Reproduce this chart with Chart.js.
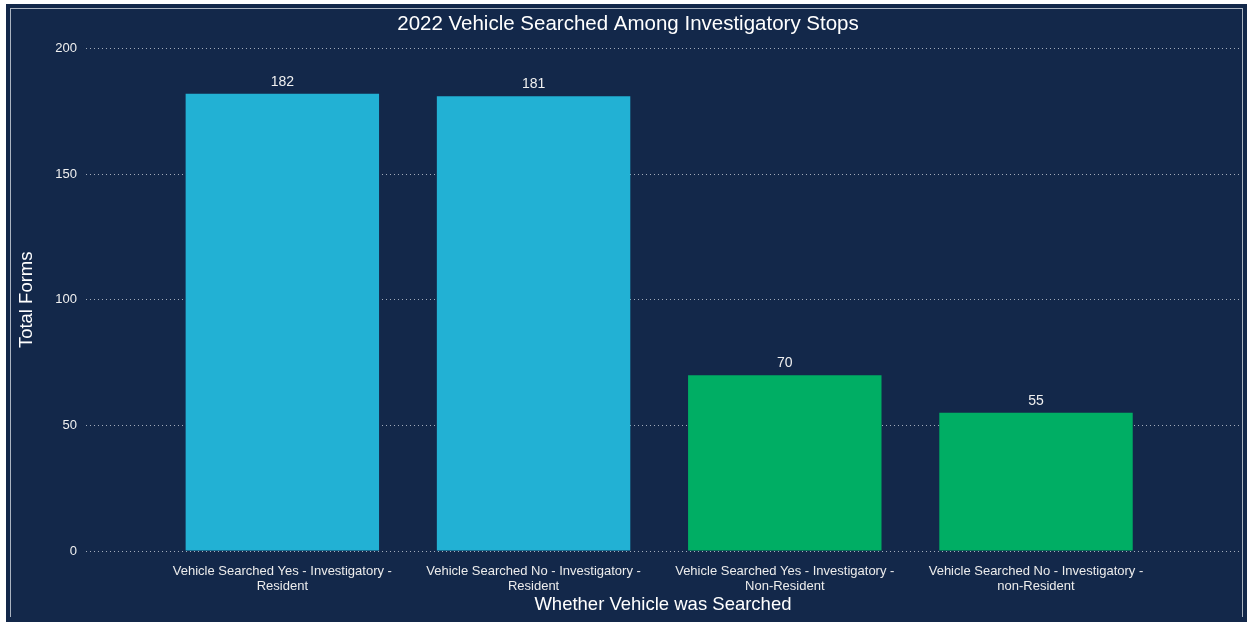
<!DOCTYPE html>
<html>
<head>
<meta charset="utf-8">
<script src="https://cdn.jsdelivr.net/npm/chart.js@4"></script>
<style>
  html, body { margin: 0; padding: 0; background: #ffffff; width: 1249px; height: 622px; overflow: hidden; }
  #panel { position: absolute; left: 6px; top: 4px; width: 1241px; height: 618px; background: #13284a; }
  #frame { position: absolute; left: 10px; top: 8px; width: 1233px; height: 609px; border: 1px solid #aab3c0; border-bottom: none; box-sizing: border-box; }
  #wrap { position: absolute; left: 0; top: 0; width: 1249px; height: 622px; }
</style>
</head>
<body>
<div id="panel"></div>
<div id="frame"></div>
<div id="wrap"><canvas id="chart"></canvas></div>
<script>
// Searches among investigatory stops, 2022
const categories = [
  ["Vehicle Searched Yes - Investigatory -", "Resident"],
  ["Vehicle Searched No - Investigatory -", "Resident"],
  ["Vehicle Searched Yes - Investigatory -", "Non-Resident"],
  ["Vehicle Searched No - Investigatory -", "non-Resident"]
];
const totalForms = [182, 181, 70, 55];
const barColors = ["#22b1d4", "#22b1d4", "#00ae64", "#00ae64"];
const yTicks = [0, 50, 100, 150, 200];

const textColor = "#ffffff";
const fontFamily = "'Liberation Sans', Arial, sans-serif";

// Writes each bar's value just above it
const valueLabels = {
  id: "valueLabels",
  afterDatasetsDraw(chart) {
    const ctx = chart.ctx;
    const meta = chart.getDatasetMeta(0);
    ctx.save();
    ctx.fillStyle = "#f0f0f0";
    ctx.font = "14px " + fontFamily;
    ctx.textAlign = "center";
    ctx.textBaseline = "bottom";
    meta.data.forEach((bar, i) => {
      ctx.fillText(String(totalForms[i]), bar.x, bar.y - 5);
    });
    ctx.restore();
  }
};

new Chart(document.getElementById("chart"), {
  type: "bar",
  data: {
    datasets: [{
      data: totalForms.map((v, i) => ({ x: i, y: v })),
      backgroundColor: barColors,
      borderWidth: 0,
      barPercentage: 0.77,
      categoryPercentage: 1
    }]
  },
  options: {
    responsive: true,
    maintainAspectRatio: false,
    animation: false,
    layout: { padding: { top: 3, left: 16, right: 9, bottom: 6 } },
    plugins: {
      legend: { display: false },
      tooltip: { enabled: false },
      title: {
        display: true,
        text: "2022 Vehicle Searched Among Investigatory Stops",
        color: textColor,
        font: { family: fontFamily, size: 20.5, weight: "normal" },
        padding: { top: 9, bottom: 12 }
      }
    },
    scales: {
      x: {
        type: "linear",
        offset: false,
        min: -0.782,
        max: 3.812,
        afterBuildTicks(scale) {
          scale.ticks = categories.map((_, i) => ({ value: i }));
        },
        // keep the two-line labels tucked close to the axis title
        afterFit(scale) {
          scale.height = 65;
        },
        grid: { display: false, drawTicks: false },
        border: { display: false },
        ticks: {
          color: "#ececec",
          font: { family: fontFamily, size: 13, lineHeight: 1.15 },
          padding: 13,
          maxRotation: 0,
          autoSkip: false,
          callback: (v) => categories[v]
        },
        title: {
          display: true,
          text: "Whether Vehicle was Searched",
          color: textColor,
          font: { family: fontFamily, size: 18.5 },
          padding: { top: 0, bottom: 0 }
        }
      },
      y: {
        min: 0,
        max: 200,
        afterBuildTicks(scale) {
          scale.ticks = yTicks.map(v => ({ value: v }));
        },
        grid: {
          color: "#a3acbb",
          lineWidth: 1,
          drawTicks: false
        },
        border: { display: false, dash: [1, 3] },
        ticks: {
          color: "#f0f0f0",
          font: { family: fontFamily, size: 13 },
          padding: 9
        },
        title: {
          display: true,
          text: "Total Forms",
          color: textColor,
          font: { family: fontFamily, size: 18.5 },
          padding: { top: 0, bottom: 8 }
        }
      }
    }
  },
  plugins: [valueLabels]
});
</script>
</body>
</html>
